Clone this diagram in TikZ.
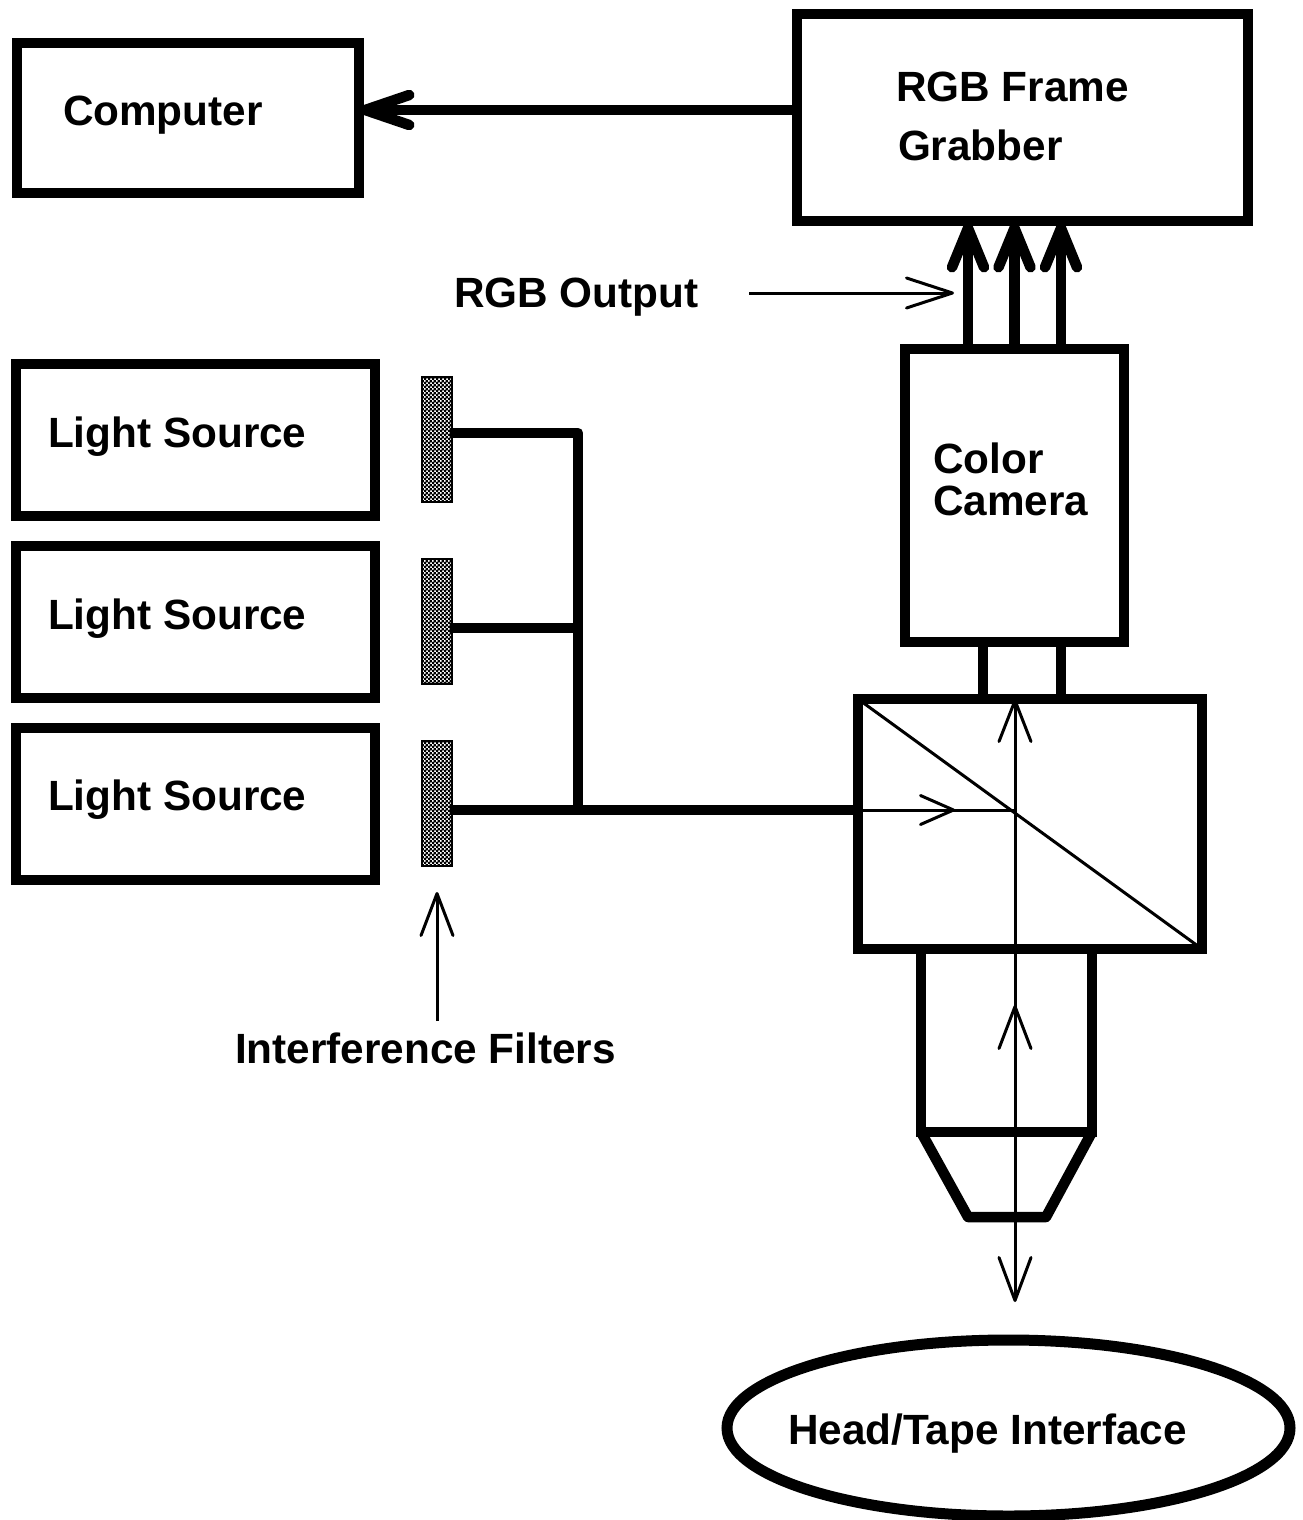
\documentclass[tikz,border=0pt]{standalone}
\usepackage{fontspec}
\setmainfont{Liberation Sans}
\usetikzlibrary{arrows.meta,shapes.geometric,patterns}
\pgfdeclarepatternformonly{chk}{\pgfpointorigin}{\pgfqpoint{4pt}{4pt}}{\pgfqpoint{4pt}{4pt}}{%
  \pgfpathrectangle{\pgfqpoint{0pt}{0pt}}{\pgfqpoint{2.7pt}{2.7pt}}%
  \pgfpathrectangle{\pgfqpoint{2pt}{2pt}}{\pgfqpoint{2.7pt}{2.7pt}}%
  \pgfusepath{fill}}
\tikzset{
  box/.style={draw,rectangle,line width=10.5pt,outer sep=0pt,inner sep=0pt,line join=miter},
  filterbox/.style={draw,rectangle,line width=2.5pt,outer sep=0pt,inner sep=0pt,minimum width=30pt,minimum height=125pt,pattern=chk},
  lbl/.style={anchor=base west,inner sep=0pt,outer sep=0pt,font=\fontsize{42.3}{48}\selectfont\bfseries},
  thick line/.style={line width=10.5pt},
  thickarrow/.style={line width=10.5pt,-{Straight Barb[length=39pt,width=32pt,round]}},
  widearrow/.style={line width=10.5pt,-{Straight Barb[length=44pt,width=30pt,round]}},
  thin line/.style={line width=3pt},
  thinarrow/.style={line width=3pt,-{Straight Barb[length=46pt,width=30pt,round]}},
  vertarrow/.style={line width=3pt,-{Straight Barb[length=42pt,width=32pt,round]}},
  shortarrow/.style={line width=3pt,-{Straight Barb[length=33pt,width=29pt,round]}},
  bothways/.style={line width=3pt,{Straight Barb[length=41pt,width=32pt,round]}-{Straight Barb[length=43pt,width=32pt,round]}},
}
\begin{document}
\begin{tikzpicture}[x=1pt,y=-1pt]
\useasboundingbox (0,0) rectangle (1303,1520);
% boxes
\node[box,minimum width=342pt,minimum height=150pt] (computer) at (188,118) {};
\node[box,minimum width=451pt,minimum height=207pt] (grabber) at (1022.5,117.5) {};
\node[box,minimum width=359pt,minimum height=152pt] (ls1) at (195.5,440) {};
\node[box,minimum width=359pt,minimum height=152pt] (ls2) at (195.5,622) {};
\node[box,minimum width=359pt,minimum height=152pt] (ls3) at (195.5,804) {};
\node[box,minimum width=219pt,minimum height=293pt] (camera) at (1014.5,495.5) {};
\node[box,minimum width=344pt,minimum height=250pt] (splitter) at (1030,824) {};
\node[filterbox] (f1) at (437,439.5) {};
\node[filterbox] (f2) at (437,621.5) {};
\node[filterbox] (f3) at (437,803.5) {};
\node[draw,ellipse,line width=11pt,outer sep=0pt,inner sep=0pt,minimum width=563pt,minimum height=176pt] (tape) at (1008.5,1428) {};
% helper coordinates
\coordinate (cpT) at (797,110);
\coordinate (cpH) at (360,110);
\coordinate (r1a) at (968,349); \coordinate (r1b) at (968,223);
\coordinate (r2a) at (1014.5,349); \coordinate (r2b) at (1014.5,223);
\coordinate (r3a) at (1061,349); \coordinate (r3b) at (1061,223);
\coordinate (rgbS) at (749,293); \coordinate (rgbE) at (954,293);
\coordinate (j1) at (578,433); \coordinate (j2) at (578,628); \coordinate (j3) at (578,810);
\coordinate (f1e) at (450,433); \coordinate (f2e) at (450,628); \coordinate (f3e) at (450,810);
\coordinate (spl) at (858,810);
\coordinate (n1a) at (983,642); \coordinate (n1b) at (983,699);
\coordinate (n2a) at (1061,642); \coordinate (n2b) at (1061,699);
\coordinate (o1) at (921,949); \coordinate (o2) at (921,1132); \coordinate (o3) at (1092,1132); \coordinate (o4) at (1092,949);
\coordinate (t1) at (968,1217); \coordinate (t2) at (1046,1217);
\coordinate (ax1) at (1015,699); \coordinate (ax2) at (1015,1302);
\coordinate (axm1) at (1015,1060); \coordinate (axm2) at (1015,1005);
\coordinate (cen) at (1015,810); \coordinate (hd) at (955,810);
\coordinate (ifS) at (437,1021); \coordinate (ifE) at (437,892);
% connectors
\draw[widearrow] (cpT) -- (cpH);
\draw[thickarrow] (r1a) -- (r1b);
\draw[thickarrow] (r2a) -- (r2b);
\draw[thickarrow] (r3a) -- (r3b);
\draw[thinarrow] (rgbS) -- (rgbE);
\draw[thick line,line join=round] (f1e) -- (j1) -- (j3);
\draw[thick line] (f2e) -- (j2);
\draw[thick line] (f3e) -- (spl);
\draw[thick line] (n1a) -- (n1b);
\draw[thick line] (n2a) -- (n2b);
\draw[thick line,line join=miter] (o1) -- (o2) -- (o3) -- (o4);
\draw[thick line,line join=round] (o2) -- (t1) -- (t2) -- (o3);
\draw[thin line] (splitter.north west) -- (splitter.south east);
\draw[bothways] (ax1) -- (ax2);
\draw[vertarrow] (axm1) -- (axm2);
\draw[thin line] (spl) -- (cen);
\draw[shortarrow] (spl) -- (hd);
\draw[vertarrow] (ifS) -- (ifE);
% labels
\node[lbl] (tcomp) at (63,125) {Computer};
\node[lbl] (tg1) at (896,101) {RGB Frame};
\node[lbl] (tg2) at (898,160) {Grabber};
\node[lbl] (trgb) at (454,307) {RGB Output};
\node[lbl] (tl1) at (48,447) {Light Source};
\node[lbl] (tl2) at (48,629) {Light Source};
\node[lbl] (tl3) at (48,810) {Light Source};
\node[lbl] (tc1) at (933,473) {Color};
\node[lbl] (tc2) at (933,515) {Camera};
\node[lbl] (tif) at (235,1063) {Interference Filters};
\node[lbl] (tht) at (788,1444) {Head/Tape Interface};
\end{tikzpicture}
\end{document}
